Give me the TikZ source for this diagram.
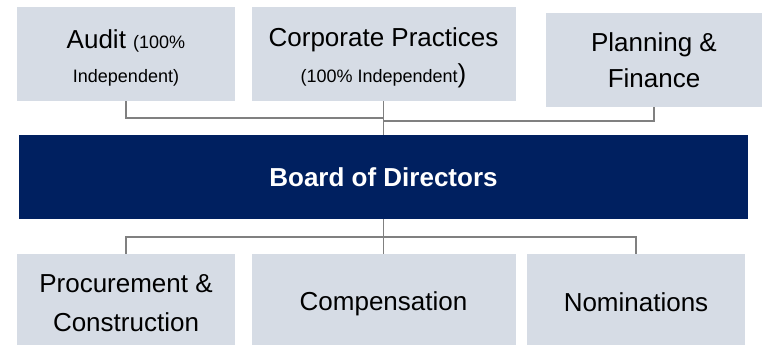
\documentclass[tikz,border=0pt]{standalone}
\usepackage{fontspec}
\setmainfont{Liberation Sans}
\definecolor{boxfill}{HTML}{D6DCE5}
\definecolor{navy}{HTML}{002060}
\definecolor{linegray}{HTML}{808080}
\newcommand{\bigtxt}{\fontsize{26}{36}\selectfont}
\newcommand{\smalltxt}{\fontsize{18}{36}\selectfont}
\begin{document}
\begin{tikzpicture}[x=1pt,y=-1pt,
  cbox/.style={rectangle, fill=boxfill, inner sep=0pt},
  txt/.style={inner sep=0pt, align=center, text=black, font=\bigtxt},
  conn/.style={draw=linegray, line width=1.8pt}]
\useasboundingbox (0,0) rectangle (763,345);
\node[cbox, minimum width=218pt, minimum height=94pt] (audit) at (126,54) {};
\node[cbox, minimum width=264pt, minimum height=94pt] (corp) at (383.5,54) {};
\node[cbox, minimum width=216pt, minimum height=94pt] (plan) at (654,60) {};
\node[rectangle, fill=navy, inner sep=0pt, minimum width=729pt, minimum height=84pt, text=white, font=\bfseries\fontsize{26}{30}\selectfont] (board) at (383.5,177) {Board of Directors};
\node[cbox, minimum width=218pt, minimum height=91pt] (proc) at (126,299.5) {};
\node[cbox, minimum width=264pt, minimum height=91pt] (comp) at (383.5,299.5) {};
\node[cbox, minimum width=218pt, minimum height=91pt] (nom) at (636,299.5) {};
\node[txt] (audittxt) at ([yshift=-3.5pt]audit.center) {Audit {\smalltxt (100\%}\\[-2pt]{\smalltxt Independent)}};
\node[txt] (corptxt) at ([yshift=-3.5pt]corp.center) {Corporate Practices\\[0pt]{\smalltxt (100\% Independent})};
\node[txt] (plantxt) at (plan.center) {Planning \&\\Finance};
\node[txt] (proctxt) at ([yshift=-4pt]proc.center) {Procurement \&\\[3pt]Construction};
\node[txt] (comptxt) at ([yshift=-4pt]comp.center) {Compensation};
\node[txt] (nomtxt) at ([yshift=-3pt]nom.center) {Nominations};
\coordinate (hla) at (0,118);
\coordinate (hlb) at (0,121);
\coordinate (hlc) at (0,237);
\draw[conn] (audit.south) |- (corp.south |- hla);
\draw[conn] (corp.south) -- (corp.south |- board.north);
\draw[conn] (plan.south) |- (corp.south |- hlb);
\draw[conn] (board.south -| comp.north) -- (comp.north);
\draw[conn] (proc.north) |- (hlc -| nom.north) -- (nom.north);
\end{tikzpicture}
\end{document}
